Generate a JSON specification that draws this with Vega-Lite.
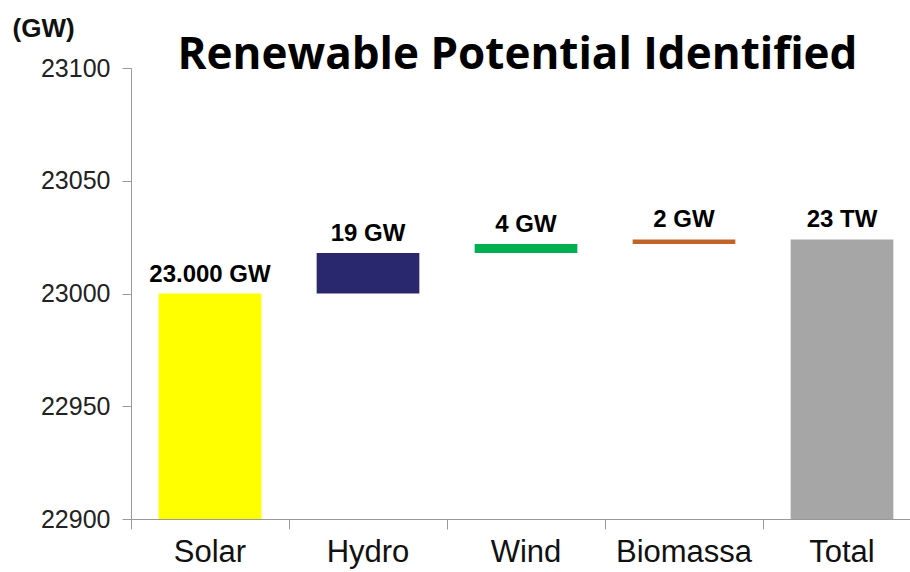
{
  "$schema": "https://vega.github.io/schema/vega-lite/v6.json",
  "width": 779,
  "height": 451,
  "autosize": {"type": "none"},
  "padding": {"left": 131, "top": 68, "right": 0, "bottom": 53},
  "background": "white",
  "title": {
    "text": "Renewable Potential Identified",
    "font": "Open Sans",
    "fontSize": 44,
    "fontWeight": "bold",
    "color": "#000000",
    "anchor": "middle",
    "baseline": "alphabetic",
    "offset": 2,
    "dx": -3,
    "dy": 100
  },
  "config": {
    "view": {"stroke": null},
    "axis": {"grid": false}
  },
  "data": {
    "values": [
      {"cat": "Solar", "start": 22900, "end": 23000, "label": "23.000 GW"},
      {"cat": "Hydro", "start": 23000, "end": 23018, "label": "19 GW"},
      {"cat": "Wind", "start": 23018, "end": 23022, "label": "4 GW"},
      {"cat": "Biomassa", "start": 23022, "end": 23024, "label": "2 GW"},
      {"cat": "Total", "start": 22900, "end": 23024, "label": "23 TW"}
    ]
  },
  "encoding": {
    "x": {
      "field": "cat",
      "type": "nominal",
      "sort": null,
      "scale": {"range": [0, 790], "paddingInner": 0, "paddingOuter": 0},
      "axis": {
        "title": null,
        "labelAngle": 0,
        "labelFont": "Liberation Sans",
        "labelFontSize": 31,
        "labelColor": "#111111",
        "labelPadding": 8,
        "tickSize": 10,
        "tickColor": "#999999",
        "domainColor": "#999999",
        "bandPosition": 0
      }
    }
  },
  "layer": [
    {
      "mark": {"type": "bar", "width": {"band": 0.65}},
      "encoding": {
        "y": {
          "field": "start",
          "type": "quantitative",
          "scale": {"domain": [22900, 23100], "zero": false, "nice": false},
          "axis": {
            "values": [22900, 22950, 23000, 23050, 23100],
            "format": "d",
            "title": "(GW)",
            "titleAngle": 0,
            "titleX": -119,
            "titleY": -32,
            "titleAlign": "left",
            "titleBaseline": "alphabetic",
            "titleFont": "Liberation Sans",
            "titleFontSize": 26,
            "titleFontWeight": "bold",
            "titleColor": "#111111",
            "labelFont": "Liberation Sans",
            "labelFontSize": 25,
            "labelColor": "#222222",
            "labelPadding": 12,
            "tickSize": 9,
            "tickColor": "#999999",
            "domainColor": "#999999"
          }
        },
        "y2": {"field": "end"},
        "color": {
          "field": "cat",
          "type": "nominal",
          "scale": {
            "domain": ["Solar", "Hydro", "Wind", "Biomassa", "Total"],
            "range": ["#FFFF00", "#29286F", "#00B050", "#C0652A", "#A6A6A6"]
          },
          "legend": null
        }
      }
    },
    {
      "mark": {
        "type": "text",
        "font": "Liberation Sans",
        "fontSize": 24,
        "fontWeight": "bold",
        "color": "#000000",
        "baseline": "alphabetic",
        "dy": -12
      },
      "encoding": {
        "y": {"field": "end", "type": "quantitative"},
        "text": {"field": "label"}
      }
    }
  ]
}
